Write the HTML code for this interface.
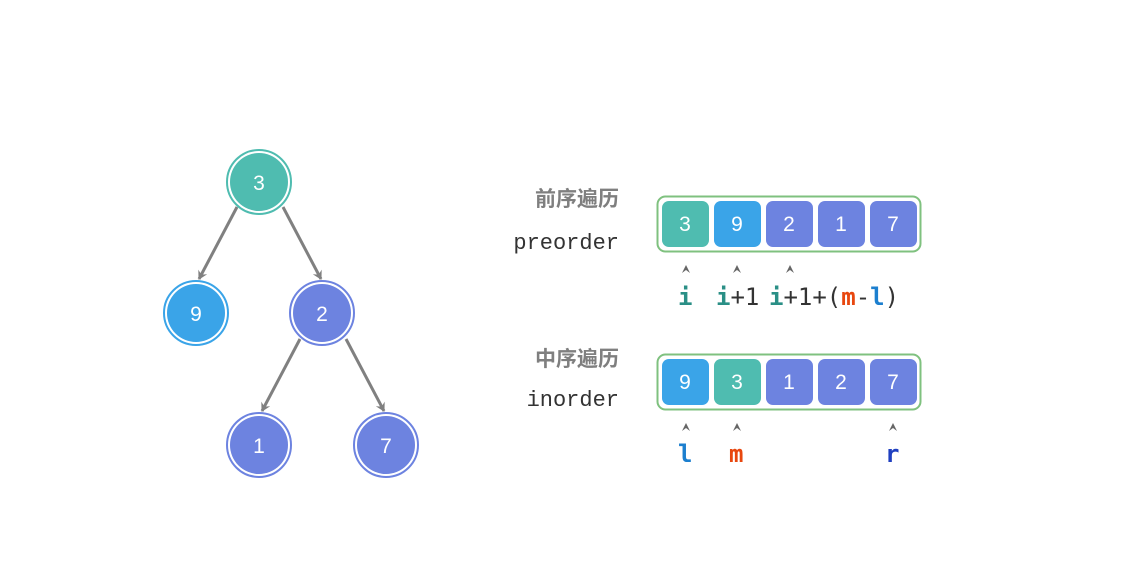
<!DOCTYPE html>
<html><head><meta charset="utf-8"><style>
html,body{margin:0;padding:0;background:#fff;}
svg{display:block;}
.cn{font-family:"Liberation Sans","Noto Sans CJK SC",sans-serif;font-weight:bold;font-size:21px;fill:#7f7f7f;}
.mono{font-family:"Liberation Mono","DejaVu Sans Mono",monospace;font-size:22px;fill:#333;}
.num{font-family:"Liberation Sans","DejaVu Sans",sans-serif;font-size:21px;fill:#fff;}
.idx{font-family:"DejaVu Sans Mono","Liberation Mono",monospace;font-size:24px;fill:#333;}
.car{font-family:"DejaVu Sans",sans-serif;font-size:13px;fill:#666;}
</style></head><body>
<svg width="1147" height="577" viewBox="0 0 1147 577" xmlns="http://www.w3.org/2000/svg">
<defs>
<marker id="ah" markerWidth="10" markerHeight="10" refX="8" refY="5" orient="auto" markerUnits="userSpaceOnUse">
<path d="M0,0 L9,5 L0,10 L3,5 Z" fill="#808080"/></marker>
</defs>
<g stroke="#808080" stroke-width="3" fill="none" marker-end="url(#ah)">
<line x1="237" y1="207" x2="199" y2="279"/>
<line x1="283" y1="207" x2="321" y2="279"/>
<line x1="300" y1="339" x2="262" y2="411"/>
<line x1="346" y1="339" x2="384" y2="411"/>
</g>
<g>
<circle cx="259" cy="182" r="32" fill="#fff" stroke="#4fbcb0" stroke-width="2"/><circle cx="259" cy="182" r="29" fill="#4fbcb0"/>
<circle cx="196" cy="313" r="32" fill="#fff" stroke="#3aa4e8" stroke-width="2"/><circle cx="196" cy="313" r="29" fill="#3aa4e8"/>
<circle cx="322" cy="313" r="32" fill="#fff" stroke="#6d83e0" stroke-width="2"/><circle cx="322" cy="313" r="29" fill="#6d83e0"/>
<circle cx="259" cy="445" r="32" fill="#fff" stroke="#6d83e0" stroke-width="2"/><circle cx="259" cy="445" r="29" fill="#6d83e0"/>
<circle cx="386" cy="445" r="32" fill="#fff" stroke="#6d83e0" stroke-width="2"/><circle cx="386" cy="445" r="29" fill="#6d83e0"/>
</g>
<g class="num" text-anchor="middle">
<text x="259" y="190">3</text><text x="196" y="321">9</text><text x="322" y="321">2</text><text x="259" y="453">1</text><text x="386" y="453">7</text>
</g>
<text class="cn" x="619" y="206" text-anchor="end">前序遍历</text>
<text class="mono" x="619" y="249" text-anchor="end">preorder</text>
<text class="cn" x="619" y="366" text-anchor="end">中序遍历</text>
<text class="mono" x="619" y="406" text-anchor="end">inorder</text>
<rect x="657.5" y="196.5" width="263" height="55" rx="8" fill="#fff" stroke="#7fc17f" stroke-width="2"/>
<rect x="657.5" y="354.5" width="263" height="55" rx="8" fill="#fff" stroke="#7fc17f" stroke-width="2"/>
<g>
<rect x="662" y="201" width="47" height="46" rx="7" fill="#4fbcb0"/>
<rect x="714" y="201" width="47" height="46" rx="7" fill="#3aa4e8"/>
<rect x="766" y="201" width="47" height="46" rx="7" fill="#6d83e0"/>
<rect x="818" y="201" width="47" height="46" rx="7" fill="#6d83e0"/>
<rect x="870" y="201" width="47" height="46" rx="7" fill="#6d83e0"/>
<rect x="662" y="359" width="47" height="46" rx="7" fill="#3aa4e8"/>
<rect x="714" y="359" width="47" height="46" rx="7" fill="#4fbcb0"/>
<rect x="766" y="359" width="47" height="46" rx="7" fill="#6d83e0"/>
<rect x="818" y="359" width="47" height="46" rx="7" fill="#6d83e0"/>
<rect x="870" y="359" width="47" height="46" rx="7" fill="#6d83e0"/>
</g>
<g class="num" text-anchor="middle">
<text x="685" y="231">3</text><text x="737" y="231">9</text><text x="789" y="231">2</text><text x="841" y="231">1</text><text x="893" y="231">7</text>
<text x="685" y="389">9</text><text x="737" y="389">3</text><text x="789" y="389">1</text><text x="841" y="389">2</text><text x="893" y="389">7</text>
</g>
<g fill="#666">
<path d="M682,273 L686,265 L690,273 L686,270 Z"/>
<path d="M733,273 L737,265 L741,273 L737,270 Z"/>
<path d="M786,273 L790,265 L794,273 L790,270 Z"/>
<path d="M682,431 L686,423 L690,431 L686,428 Z"/>
<path d="M733,431 L737,423 L741,431 L737,428 Z"/>
<path d="M889,431 L893,423 L897,431 L893,428 Z"/>
</g>
<text class="idx" x="678" y="305"><tspan fill="#2a8f86" font-weight="bold">i</tspan></text>
<text class="idx" x="716" y="305"><tspan fill="#2a8f86" font-weight="bold">i</tspan>+1</text>
<text class="idx" x="769" y="305"><tspan fill="#2a8f86" font-weight="bold">i</tspan>+1+(<tspan fill="#e8470f" font-weight="bold">m</tspan>-<tspan fill="#1c7fcf" font-weight="bold">l</tspan>)</text>
<text class="idx" x="678" y="462" fill="#1c7fcf" font-weight="bold" style="fill:#1c7fcf">l</text>
<text class="idx" x="729" y="462" font-weight="bold" style="fill:#e8470f">m</text>
<text class="idx" x="885" y="462" font-weight="bold" style="fill:#1f3fc0">r</text>
</svg>
</body></html>
